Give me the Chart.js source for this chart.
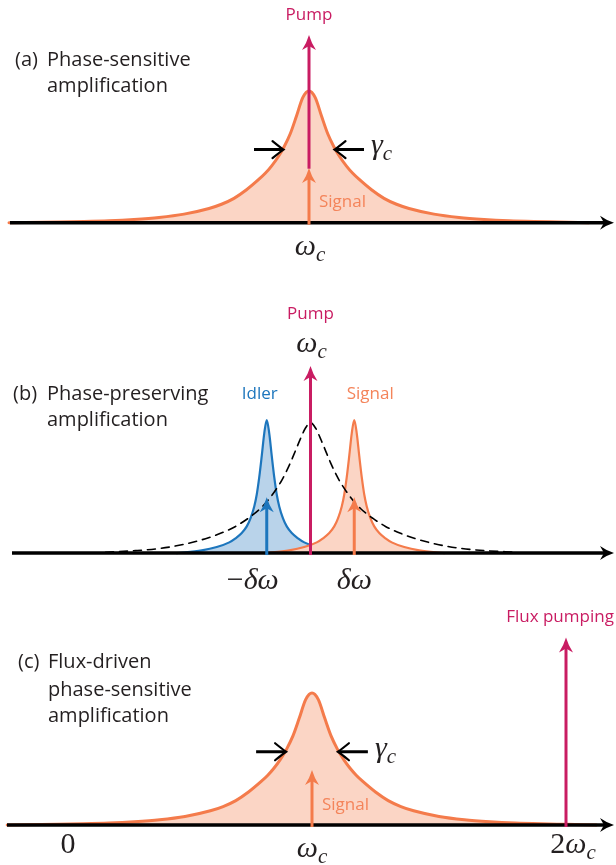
<!DOCTYPE html>
<html>
<head>
<meta charset="utf-8">
<script src="https://cdn.jsdelivr.net/npm/chart.js@4.4.1/dist/chart.umd.min.js"></script>
<style>
  html, body { margin: 0; padding: 0; background: #ffffff; }
  body { width: 616px; height: 865px; position: relative; overflow: hidden; }
  canvas { position: absolute; left: 0; }
</style>
</head>
<body>
<canvas id="panelA" width="616" height="290" style="top:0px"></canvas>
<canvas id="panelB" width="616" height="310" style="top:290px"></canvas>
<canvas id="panelC" width="616" height="265" style="top:600px"></canvas>
<script>
// ---------------- DATA (frequency in units of omega_c, heights normalised) ----------------
// Cavity response (panels a and c): detuning from omega_c and height
const cavityDetuning = [-1.2, -1.0, -0.9, -0.8, -0.7, -0.6, -0.5, -0.4, -0.35, -0.3, -0.25, -0.2, -0.175, -0.15, -0.125,
                        -0.1, -0.075, -0.05, -0.025, 0, 0.025, 0.05, 0.075, 0.1, 0.125, 0.15, 0.175, 0.2, 0.25,
                        0.3, 0.35, 0.4, 0.5, 0.6, 0.7, 0.8, 0.9, 1.0, 1.12];
const cavityHeight   = [0, 0.005, 0.009, 0.015, 0.025, 0.04, 0.065, 0.108, 0.14, 0.185, 0.25, 0.33, 0.375, 0.43, 0.495,
                        0.575, 0.675, 0.81, 0.95, 1, 0.95, 0.81, 0.675, 0.575, 0.495, 0.43, 0.375, 0.33, 0.25,
                        0.185, 0.14, 0.108, 0.065, 0.04, 0.025, 0.015, 0.009, 0.005, 0];
// Narrow amplified modes in panel b (idler and signal), detuning from each mode centre
const modeDetuning = [-0.36, -0.26, -0.2, -0.15, -0.125, -0.1, -0.08, -0.065, -0.05, -0.04, -0.03, -0.02, -0.01, 0,
                      0.01, 0.02, 0.03, 0.04, 0.05, 0.065, 0.08, 0.1, 0.125, 0.15, 0.2, 0.26, 0.36];
const modeHeight   = [0, 0.02, 0.045, 0.08, 0.11, 0.15, 0.2, 0.26, 0.35, 0.44, 0.57, 0.73, 0.9, 1,
                      0.9, 0.73, 0.57, 0.44, 0.35, 0.26, 0.2, 0.15, 0.11, 0.08, 0.045, 0.02, 0];
// Bare cavity (dashed) in panel b
const bareDetuning = [-0.82, -0.7, -0.6, -0.5, -0.42, -0.36, -0.3, -0.25, -0.2, -0.16, -0.12, -0.1, -0.08, -0.06, -0.04, -0.02, 0,
                      0.02, 0.04, 0.06, 0.08, 0.1, 0.12, 0.16, 0.2, 0.25, 0.3, 0.36, 0.42, 0.5, 0.6, 0.7, 0.82];
const bareHeight   = [0.006, 0.018, 0.035, 0.068, 0.108, 0.148, 0.2, 0.26, 0.335, 0.42, 0.53, 0.6, 0.68, 0.77, 0.86, 0.94, 0.98,
                      0.94, 0.86, 0.77, 0.68, 0.6, 0.53, 0.42, 0.335, 0.26, 0.2, 0.148, 0.108, 0.068, 0.035, 0.018, 0.006];

const omegaC = 1;
const deltaOmega = 0.175;
const fluxFrequency = 2;

// Tone arrows: [from height, to height]
const pumpA   = [0.41, 1.425];
const signalA = [0, 0.415];
const pumpB   = [0, 1.406];
const idlerB  = [0, 0.42];
const signalB = [0, 0.42];
const signalC = [0, 0.417];
const fluxC   = [0, 1.42];

// Linewidth marker gamma_c: height, arrow tip and tail detunings
const gammaHeight = 0.555;
const gammaTip = 0.102;
const gammaTail = 0.22;

// Frequency labels
const labelsA = ['ω_c'];
const labelsB = ['ω_c', '−δω', 'δω'];
const labelsC = ['0', 'ω_c', '2ω_c'];
const labelValuesC = [0, 1, 2];

// ---------------- STYLE ----------------
const ORANGE = '#f47b4b', ORANGE_FILL = '#fbd5c5', ORANGE_TEXT = '#f4845a';
const BLUE = '#1d76bd', BLUE_FILL = '#b9d3ea';
const MAGENTA = '#c91c62', INK = '#231f20';
const SANS = '"Open Sans", "Noto Sans", sans-serif';
const SERIF = '"Liberation Serif", "DejaVu Serif", serif';

function series(offsets, heights, centre) {
  return offsets.map((d, i) => ({ x: centre + d, y: heights[i] }));
}

function head(ctx, x, y, dir, len, half, color) {
  ctx.save();
  ctx.translate(x, y);
  if (dir === 'right') ctx.rotate(Math.PI / 2);
  ctx.fillStyle = color;
  ctx.beginPath();
  ctx.moveTo(0, 0);
  ctx.quadraticCurveTo(half * 0.35, len * 0.55, half, len);
  ctx.lineTo(0, len - 4);
  ctx.lineTo(-half, len);
  ctx.quadraticCurveTo(-half * 0.35, len * 0.55, 0, 0);
  ctx.closePath();
  ctx.fill();
  ctx.restore();
}

function vArrow(ctx, xs, ys, x, range, color, lw) {
  const px = xs.getPixelForValue(x);
  const p0 = ys.getPixelForValue(range[0]) + (range[0] === 0 ? 2 : 0);
  const p1 = ys.getPixelForValue(range[1]);
  ctx.save();
  ctx.strokeStyle = color;
  ctx.lineWidth = lw;
  ctx.beginPath();
  ctx.moveTo(px, p0);
  ctx.lineTo(px, p1 + 10);
  ctx.stroke();
  ctx.restore();
  head(ctx, px, p1, 'up', 15, 7, color);
}

function axis(ctx, ys, x0, x1) {
  const y = ys.getPixelForValue(0);
  ctx.save();
  ctx.strokeStyle = '#000';
  ctx.lineWidth = 3.4;
  ctx.beginPath();
  ctx.moveTo(x0, y);
  ctx.lineTo(x1 - 8, y);
  ctx.stroke();
  ctx.restore();
  head(ctx, x1, y, 'right', 14, 7, '#000');
}

function chevron(ctx, tipX, y, s) {
  ctx.beginPath();
  ctx.moveTo(tipX - s * 11, y - 8.5);
  ctx.quadraticCurveTo(tipX - s * 3, y - 2, tipX, y);
  ctx.quadraticCurveTo(tipX - s * 3, y + 2, tipX - s * 11, y + 8.5);
  ctx.stroke();
}

function gammaMarker(ctx, xs, ys, centre) {
  const y = ys.getPixelForValue(gammaHeight);
  const lTip = xs.getPixelForValue(centre - gammaTip), lTail = xs.getPixelForValue(centre - gammaTail);
  const rTip = xs.getPixelForValue(centre + gammaTip), rTail = xs.getPixelForValue(centre + gammaTail);
  ctx.save();
  ctx.strokeStyle = '#000';
  ctx.lineWidth = 3;
  ctx.lineCap = 'butt';
  ctx.beginPath();
  ctx.moveTo(lTail, y); ctx.lineTo(lTip - 1, y);
  ctx.moveTo(rTail, y); ctx.lineTo(rTip + 1, y);
  ctx.stroke();
  ctx.lineWidth = 2.2;
  ctx.lineCap = 'round';
  chevron(ctx, lTip, y, 1);
  chevron(ctx, rTip, y, -1);
  ctx.restore();
  return rTail;
}

function text(ctx, str, x, y, size, color, align) {
  ctx.save();
  ctx.font = size + 'px ' + SANS;
  ctx.fillStyle = color;
  ctx.textAlign = align || 'left';
  ctx.textBaseline = 'alphabetic';
  ctx.fillText(str, x, y);
  ctx.restore();
}

function math(ctx, label, x, baseline, size, align) {
  const parts = label.split('_');
  const pieces = [];
  for (const ch of parts[0]) {
    const italic = /[α-ω]/.test(ch);
    pieces.push({ t: ch, font: (italic ? 'italic ' : '') + size + 'px ' + SERIF, dy: 0 });
  }
  if (parts[1]) pieces.push({ t: parts[1], font: 'italic ' + Math.round(size * 0.7) + 'px ' + SERIF, dy: size * 0.2 });
  let w = 0;
  ctx.save();
  pieces.forEach(p => { ctx.font = p.font; p.w = ctx.measureText(p.t).width; w += p.w; });
  let cx = align === 'left' ? x : x - w / 2;
  ctx.fillStyle = INK;
  ctx.textAlign = 'left';
  ctx.textBaseline = 'alphabetic';
  pieces.forEach(p => { ctx.font = p.font; ctx.fillText(p.t, cx, baseline + p.dy); cx += p.w; });
  ctx.restore();
}

function makeChart(id, centrePx, pxPerUnit, ymin, ymax, datasets, draw) {
  const canvas = document.getElementById(id);
  const xmin = omegaC - centrePx / pxPerUnit;
  return new Chart(canvas, {
    type: 'line',
    data: { datasets },
    options: {
      responsive: false,
      animation: false,
      events: [],
      layout: { padding: 0 },
      plugins: { legend: { display: false }, tooltip: { enabled: false } },
      elements: {
        point: { radius: 0, hoverRadius: 0 },
        line: { cubicInterpolationMode: 'monotone', borderJoinStyle: 'round', borderCapStyle: 'round' }
      },
      scales: {
        x: { type: 'linear', min: xmin, max: xmin + canvas.width / pxPerUnit, display: false },
        y: { type: 'linear', min: ymin, max: ymax, display: false }
      }
    },
    plugins: [{
      id: 'decor',
      afterDatasetsDraw(chart) { draw(chart.ctx, chart.scales.x, chart.scales.y); }
    }]
  });
}

// ---------------- PANEL (a) ----------------
makeChart('panelA', 309, 250, -0.511, 1.691, [
  { data: series(cavityDetuning, cavityHeight, omegaC), borderColor: ORANGE, backgroundColor: ORANGE_FILL,
    fill: 'origin', borderWidth: 3 }
], (ctx, xs, ys) => {
  axis(ctx, ys, 10, 614);
  vArrow(ctx, xs, ys, omegaC, signalA, ORANGE, 3);
  vArrow(ctx, xs, ys, omegaC, pumpA, MAGENTA, 3);
  const rTail = gammaMarker(ctx, xs, ys, omegaC);
  const cx = xs.getPixelForValue(omegaC);
  text(ctx, 'Pump', cx, 20, 17, MAGENTA, 'center');
  text(ctx, 'Signal', cx + 10, 207, 17, ORANGE_TEXT, 'left');
  math(ctx, labelsA[0], cx + 1, 255, 30, 'center');
  math(ctx, 'γ_c', rTail + 7, 154, 30, 'left');
  text(ctx, '(a)', 15, 66, 20, INK);
  text(ctx, 'Phase-sensitive', 47, 66, 20, INK);
  text(ctx, 'amplification', 47, 92, 20, INK);
});

// ---------------- PANEL (b) ----------------
makeChart('panelB', 310.5, 250, -0.353, 1.977, [
  { data: series(bareDetuning, bareHeight, omegaC), borderColor: '#000', borderDash: [8, 6], borderWidth: 1.6,
    fill: false, order: 1 },
  { data: series(modeDetuning, modeHeight, omegaC + deltaOmega), borderColor: ORANGE, backgroundColor: ORANGE_FILL,
    fill: 'origin', borderWidth: 2.2, order: 2 },
  { data: series(modeDetuning, modeHeight, omegaC - deltaOmega), borderColor: BLUE, backgroundColor: BLUE_FILL,
    fill: 'origin', borderWidth: 2.2, order: 3 }
], (ctx, xs, ys) => {
  axis(ctx, ys, 12, 614);
  vArrow(ctx, xs, ys, omegaC - deltaOmega, idlerB, BLUE, 3);
  vArrow(ctx, xs, ys, omegaC + deltaOmega, signalB, ORANGE, 3);
  vArrow(ctx, xs, ys, omegaC, pumpB, MAGENTA, 3);
  const cx = xs.getPixelForValue(omegaC);
  const ix = xs.getPixelForValue(omegaC - deltaOmega);
  const sx = xs.getPixelForValue(omegaC + deltaOmega);
  text(ctx, 'Pump', cx, 29, 17, MAGENTA, 'center');
  math(ctx, labelsB[0], cx + 1, 62, 30, 'center');
  text(ctx, 'Idler', ix - 7, 109, 17, BLUE, 'center');
  text(ctx, 'Signal', sx + 16, 109, 17, ORANGE_TEXT, 'center');
  math(ctx, labelsB[1], ix - 14, 299, 30, 'center');
  math(ctx, labelsB[2], sx, 299, 30, 'center');
  text(ctx, '(b)', 13, 110, 20, INK);
  text(ctx, 'Phase-preserving', 47, 110, 20, INK);
  text(ctx, 'amplification', 47, 136, 20, INK);
});

// ---------------- PANEL (c) ----------------
makeChart('panelC', 312, 254, -0.303, 1.705, [
  { data: series(cavityDetuning, cavityHeight, omegaC), borderColor: ORANGE, backgroundColor: ORANGE_FILL,
    fill: 'origin', borderWidth: 3 }
], (ctx, xs, ys) => {
  axis(ctx, ys, 7, 614);
  vArrow(ctx, xs, ys, omegaC, signalC, ORANGE, 3);
  vArrow(ctx, xs, ys, fluxFrequency, fluxC, MAGENTA, 3);
  const rTail = gammaMarker(ctx, xs, ys, omegaC);
  const cx = xs.getPixelForValue(omegaC);
  const fx = xs.getPixelForValue(fluxFrequency);
  text(ctx, 'Flux pumping', fx - 6, 22, 17, MAGENTA, 'center');
  text(ctx, 'Signal', cx + 10, 210, 17, ORANGE_TEXT, 'left');
  math(ctx, 'γ_c', rTail + 7, 157, 30, 'left');
  math(ctx, labelsC[0], xs.getPixelForValue(labelValuesC[0]) + 10, 253, 30, 'center');
  math(ctx, labelsC[1], xs.getPixelForValue(labelValuesC[1]), 257, 30, 'center');
  math(ctx, labelsC[2], xs.getPixelForValue(labelValuesC[2]) + 7, 253, 30, 'center');
  text(ctx, '(c)', 18, 68, 20, INK);
  text(ctx, 'Flux-driven', 48, 68, 20, INK);
  text(ctx, 'phase-sensitive', 48, 96, 20, INK);
  text(ctx, 'amplification', 48, 122, 20, INK);
});
</script>
</body>
</html>
